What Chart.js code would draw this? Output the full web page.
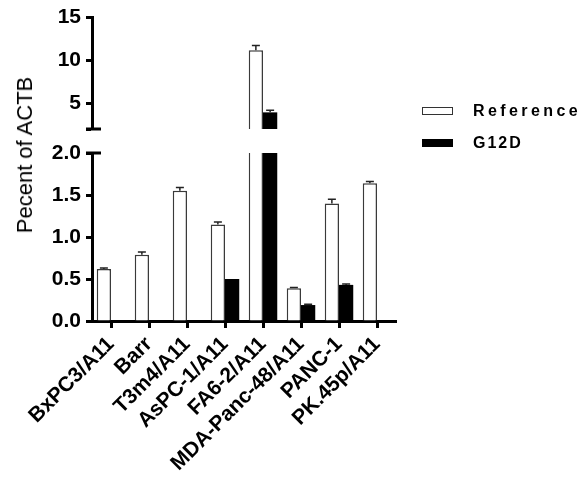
<!DOCTYPE html>
<html>
<head>
<meta charset="utf-8">
<script src="https://cdn.jsdelivr.net/npm/chart.js@4"></script>
<style>
  body { margin: 0; background: #fff; width: 588px; height: 481px; position: relative; overflow: hidden;
         font-family: "Liberation Sans", Arial, sans-serif; }
  canvas { position: absolute; left: 0; }
  #topChart { top: 0; }
  #bottomChart { top: 140px; }
  .ytitle { position: absolute; left: 25px; top: 155px; transform: translate(-50%, -50%) rotate(-90deg);
            font-size: 22px; white-space: nowrap; color: #000; }
  .legItem { position: absolute; left: 422px; height: 20px; }
  .legBox { position: absolute; left: 0; width: 29px; height: 6px; border: 1.5px solid #333; }
  .legText { position: absolute; left: 51px; top: -4px; font-size: 16px; font-weight: bold; letter-spacing: 3.4px;
             line-height: 16px; white-space: nowrap; }
</style>
</head>
<body>
<canvas id="topChart" width="588" height="140"></canvas>
<canvas id="bottomChart" width="588" height="341"></canvas>
<div class="ytitle">Pecent of ACTB</div>
<div class="legItem" style="top:107px"><div class="legBox" style="background:#fff"></div><div class="legText">Reference</div></div>
<div class="legItem" style="top:139px"><div class="legBox" style="background:#000;border-color:#000"></div><div class="legText" style="letter-spacing:2px">G12D</div></div>
<script>
const cellLines = ['BxPC3/A11', 'Barr', 'T3m4/A11', 'AsPC-1/A11', 'FA6-2/A11', 'MDA-Panc-48/A11', 'PANC-1', 'PK.45p/A11'];
const referenceVals = [0.62, 0.79, 1.55, 1.15, 11.13, 0.39, 1.40, 1.64];
const referenceErr = [0.01, 0.03, 0.04, 0.03, 0.55, 0.01, 0.05, 0.02];
const g12dVals = [0, 0, 0, 0.50, 3.93, 0.19, 0.43, 0.01];
const g12dErr = [0, 0, 0, 0, 0.25, 0.01, 0.01, 0];
const topTicks = [2, 5, 10, 15];
const bottomTicks = [0, 0.5, 1.0, 1.5, 2.0];

const FONT = '"Liberation Sans", Arial, sans-serif';

// error bars (upward only, with cap)
const errorBars = {
  id: 'errorBars',
  afterDatasetsDraw(chart) {
    const ctx = chart.ctx;
    const area = chart.chartArea;
    const yScale = chart.scales.y;
    ctx.save();
    ctx.beginPath();
    ctx.rect(area.left, area.top - 1, area.right - area.left, area.bottom - area.top + 1);
    ctx.clip();
    ctx.strokeStyle = '#222';
    ctx.lineWidth = 1.5;
    chart.data.datasets.forEach((ds, i) => {
      const meta = chart.getDatasetMeta(i);
      meta.data.forEach((bar, j) => {
        const err = ds.errors[j];
        if (!err) return;
        const v = ds.data[j];
        const y0 = yScale.getPixelForValue(v);
        const y1 = yScale.getPixelForValue(v + err);
        ctx.beginPath();
        ctx.moveTo(bar.x, y0);
        ctx.lineTo(bar.x, y1);
        ctx.moveTo(bar.x - 4, y1);
        ctx.lineTo(bar.x + 4, y1);
        ctx.stroke();
      });
    });
    ctx.restore();
  }
};

// short cap where the y axis is broken
const axisCap = {
  id: 'axisCap',
  afterDraw(chart, args, opts) {
    const ctx = chart.ctx;
    const yScale = chart.scales.y;
    const y = yScale.getPixelForValue(opts.value);
    ctx.save();
    ctx.strokeStyle = '#000';
    ctx.lineWidth = 3;
    ctx.beginPath();
    ctx.moveTo(chart.chartArea.left - 6, y);
    ctx.lineTo(chart.chartArea.left + 9, y);
    ctx.stroke();
    ctx.restore();
  }
};

function makeDatasets() {
  return [{
    label: 'Reference',
    data: referenceVals,
    errors: referenceErr,
    backgroundColor: '#fff',
    borderColor: '#3a3a3a',
    borderWidth: 1.5
  }, {
    label: 'G12D',
    data: g12dVals,
    errors: g12dErr,
    backgroundColor: '#000',
    borderColor: '#000',
    borderWidth: 0
  }];
}

const yAxisStyle = {
  grid: { drawOnChartArea: false, tickLength: 6, tickWidth: 3, color: '#000' },
  border: { color: '#000', width: 3 },
  afterFit(scale) {
    scale.width = 92;
    scale.paddingTop = 0;
    scale.paddingBottom = 0;
  }
};

new Chart(document.getElementById('topChart'), {
  type: 'bar',
  data: { labels: cellLines, datasets: makeDatasets() },
  options: {
    responsive: false,
    animation: false,
    categoryPercentage: 0.75,
    barPercentage: 1,
    layout: { padding: { top: 17, right: 192, bottom: 11, left: 0 } },
    plugins: { legend: { display: false }, tooltip: { enabled: false }, axisCap: { value: 2 } },
    scales: {
      x: { display: false, grid: { offset: false } },
      y: {
        ...yAxisStyle,
        min: 2,
        max: 15,
        afterBuildTicks(scale) { scale.ticks = topTicks.map(v => ({ value: v })); },
        ticks: {
          color: '#000',
          padding: 5,
          font: { family: FONT, size: 21, weight: 'bold' },
          callback: v => (v === 2 ? '' : v)
        }
      }
    }
  },
  plugins: [errorBars, axisCap]
});

new Chart(document.getElementById('bottomChart'), {
  type: 'bar',
  data: { labels: cellLines, datasets: makeDatasets() },
  options: {
    responsive: false,
    animation: false,
    categoryPercentage: 0.75,
    barPercentage: 1,
    layout: { padding: { top: 13, right: 192, bottom: 0, left: 0 } },
    plugins: { legend: { display: false }, tooltip: { enabled: false }, axisCap: { value: 2 } },
    scales: {
      x: {
        grid: { offset: false, drawOnChartArea: false, tickLength: 7, tickWidth: 3, color: '#000' },
        border: { color: '#000', width: 3 },
        ticks: {
          color: '#000',
          autoSkip: false,
          maxRotation: 45,
          minRotation: 45,
          padding: 4,
          font: { family: FONT, size: 21, weight: 'bold' }
        },
        afterFit(scale) {
          scale.height = 160;
          scale.paddingLeft = 0;
          scale.paddingRight = 0;
        }
      },
      y: {
        ...yAxisStyle,
        min: 0,
        max: 2,
        afterBuildTicks(scale) { scale.ticks = bottomTicks.map(v => ({ value: v })); },
        ticks: {
          color: '#000',
          padding: 5,
          font: { family: FONT, size: 21, weight: 'bold' },
          callback: v => Number(v).toFixed(1)
        }
      }
    }
  },
  plugins: [errorBars, axisCap]
});
</script>
</body>
</html>
